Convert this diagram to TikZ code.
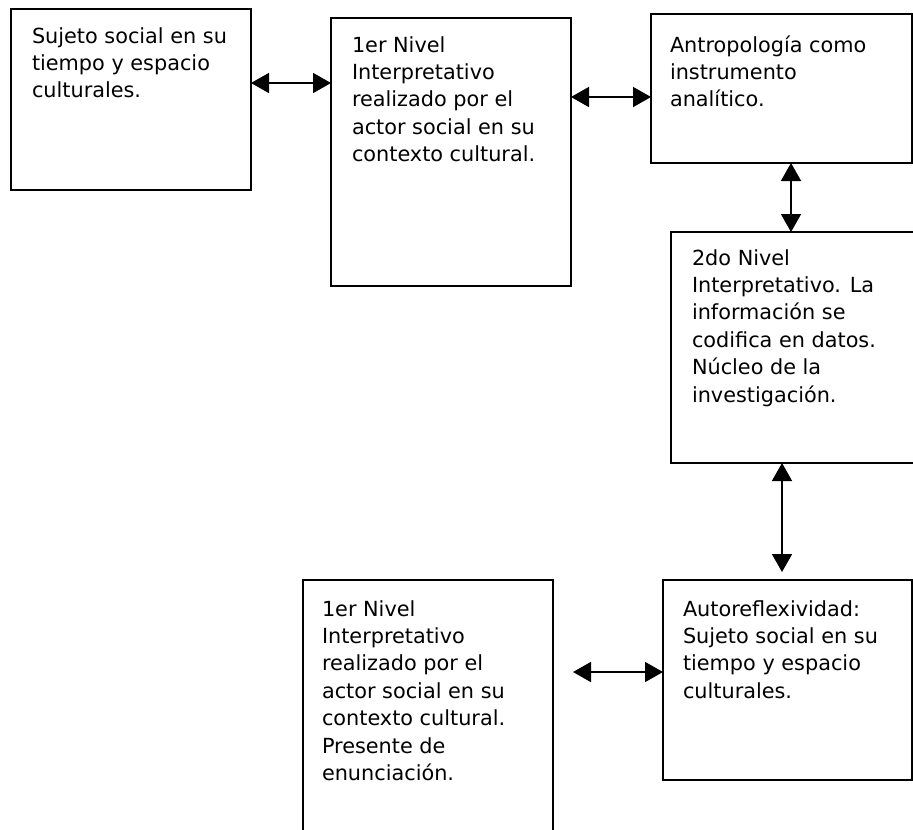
\documentclass[tikz,border=0pt]{standalone}
\usepackage{fontspec}
\setmainfont{DejaVu Sans}
\usetikzlibrary{arrows.meta}
\begin{document}
\begin{tikzpicture}[x=0.75pt,y=-0.75pt,
  box/.style={draw=black, line width=1.5pt, inner sep=0pt, outer sep=0pt, anchor=north west},
  txt/.style={anchor=base west, inner sep=0pt, outer sep=0pt, font=\fontsize{15.6pt}{20.6pt}\selectfont},
  dbl/.style={line width=1.2pt, {Triangle[length=13.5pt,width=15pt]}-{Triangle[length=13.5pt,width=15pt]}}]
\useasboundingbox (0,0) rectangle (913,829);
% boxes
\node[box, minimum width=180pt, minimum height=135.75pt] (A) at (11,9) {};
\node[box, minimum width=180pt, minimum height=201pt] (B) at (331,18) {};
\node[box, minimum width=195.75pt, minimum height=111.75pt] (C) at (651,14) {};
\node[box, minimum width=187.5pt, minimum height=173.25pt] (D) at (671,232) {};
\node[box, minimum width=186.75pt, minimum height=150pt] (E) at (663,580) {};
\node[box, minimum width=187.5pt, minimum height=195pt] (F) at (303,580) {};
% texts
\node[txt] (At) at (32,43) {\parbox[t]{170pt}{Sujeto social en su\\tiempo y espacio\\culturales.}};
\node[txt] (Bt) at (352,52) {\parbox[t]{170pt}{1er Nivel\\Interpretativo\\realizado por el\\actor social en su\\contexto cultural.}};
\node[txt] (Ct) at (670,52) {\parbox[t]{180pt}{Antropología como\\instrumento\\analítico.}};
\node[txt] (Dt) at (692,265) {\parbox[t]{170pt}{2do Nivel\\Interpretativo. La\\información se\\codifica en datos.\\Núcleo de la\\investigación.}};
\node[txt] (Et) at (683,616) {\parbox[t]{170pt}{Autoreflexividad:\\Sujeto social en su\\tiempo y espacio\\culturales.}};
\node[txt] (Ft) at (322,616) {\parbox[t]{170pt}{1er Nivel\\Interpretativo\\realizado por el\\actor social en su\\contexto cultural.\\Presente de\\enunciación.}};
% helper coordinates
\coordinate (etop) at ([yshift=6pt]E.north);
\coordinate (fe) at ([xshift=15pt]F.east);
% connectors
\draw[dbl] (A.east |- 0,83) -- (B.west |- 0,83);
\draw[dbl] (B.east |- 0,97) -- (C.west |- 0,97);
\draw[dbl] (C.south -| 791,0) -- (D.north -| 791,0);
\draw[dbl] (D.south -| 782,0) -- (etop -| 782,0);
\draw[dbl] (fe |- 0,672) -- (E.west |- 0,672);
\end{tikzpicture}
\end{document}
